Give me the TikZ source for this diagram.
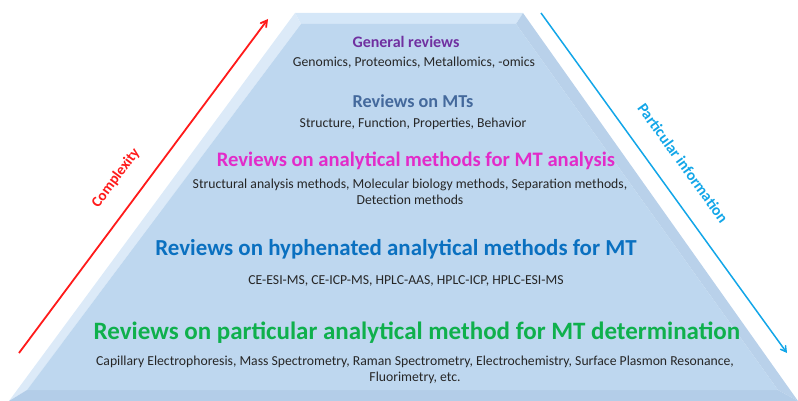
\documentclass[tikz,border=0pt]{standalone}
\usepackage{fontspec}
\setmainfont{Carlito}
\usetikzlibrary{calc}
\usetikzlibrary{arrows}
\definecolor{pyrfill}{HTML}{BED7EF}
\definecolor{pyrtop}{HTML}{D5E7F8}
\definecolor{pyrleft}{HTML}{DCEAF8}
\definecolor{pyrright}{HTML}{B9D1EA}
\definecolor{pyrbot}{HTML}{B3CDE8}
\definecolor{revpurple}{HTML}{7030A0}
\definecolor{revsteel}{HTML}{44699C}
\definecolor{revmagenta}{HTML}{E22BC9}
\definecolor{revblue}{HTML}{0A70C0}
\definecolor{revgreen}{HTML}{0FB04C}
\definecolor{cmplxred}{HTML}{FF1A1A}
\definecolor{infoblue}{HTML}{12A6E8}
\begin{document}
\begin{tikzpicture}[x=1pt, y=-1pt,
 head/.style={font=\bfseries, inner sep=0pt},
 sub/.style={font=\fontsize{13.7}{16.5}\selectfont, text=black!85, inner sep=0pt, align=center}]
\useasboundingbox (0,0) rectangle (798,401);
\coordinate (A) at (295,13);  \coordinate (B) at (523,13);
\coordinate (C) at (798,401); \coordinate (D) at (9,401);
\coordinate (a) at (301,24);  \coordinate (b) at (516,24);
\coordinate (c) at (778,390); \coordinate (d) at (27,390);
\fill[pyrtop] (A)--(B)--(b)--(a)--cycle;
\fill[pyrleft] (A)--(a)--(d)--(D)--cycle;
\fill[pyrright] (B)--(C)--(c)--(b)--cycle;
\fill[pyrbot] (D)--(d)--(c)--(C)--cycle;
\fill[pyrfill] (a)--(b)--(c)--(d)--cycle;
\node[head, text=revpurple, font=\fontsize{16}{19}\bfseries\selectfont] (gen) at (406,42) {General reviews};
\node[sub] (gensub) at (414,63) {Genomics, Proteomics, Metallomics, -omics};
\node[head, text=revsteel, font=\fontsize{18.2}{21}\bfseries\selectfont] (mts) at (413,101) {Reviews on MTs};
\node[sub] (mtssub) at (413,124) {Structure, Function, Properties, Behavior};
\node[head, text=revmagenta, font=\fontsize{20.6}{24}\bfseries\selectfont] (ana) at (416,161) {Reviews on analytical methods for MT analysis};
\node[sub] (anasub) at (410,192) {Structural analysis methods, Molecular biology methods, Separation methods,\\ Detection methods};
\node[head, text=revblue, font=\fontsize{22.9}{27}\bfseries\selectfont] (hyph) at (396,249) {Reviews on hyphenated analytical methods for MT};
\node[sub] (hyphsub) at (406,281) {CE-ESI-MS, CE-ICP-MS, HPLC-AAS, HPLC-ICP, HPLC-ESI-MS};
\node[head, text=revgreen, font=\fontsize{25}{29}\bfseries\selectfont] (part) at (417,333) {Reviews on particular analytical method for MT determination};
\node[sub] (partsub) at (415,370) {Capillary Electrophoresis, Mass Spectrometry, Raman Spectrometry, Electrochemistry, Surface Plasmon Resonance,\\ Fluorimetry, etc.};
\coordinate (cplxlow) at (19,353); \coordinate (cplxhigh) at (268,19);
\coordinate (infohigh) at (541,13); \coordinate (infolow) at (787,353);
\draw[cmplxred, line width=1.8pt, ->, >=angle 60] (cplxlow)--(cplxhigh);
\draw[infoblue, line width=1.5pt, ->, >=angle 60] (infohigh)--(infolow);
\node[head, text=cmplxred, rotate=53.3, font=\fontsize{15}{18}\bfseries\selectfont] (cplx) at (116,178) {Complexity};
\node[head, text=infoblue, rotate=-54.1, font=\fontsize{15.6}{18}\bfseries\selectfont] (info) at (683,163) {Particular information};
\end{tikzpicture}
\end{document}
